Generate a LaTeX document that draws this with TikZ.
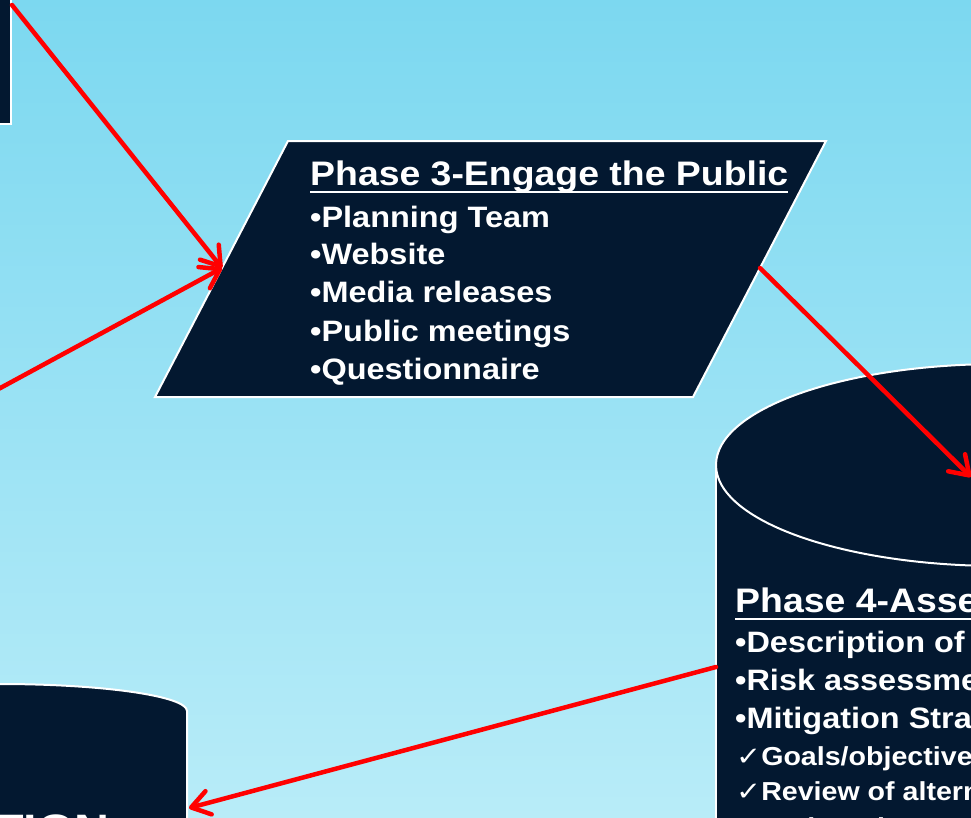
\documentclass[tikz,border=0pt]{standalone}
\usepackage{fontspec}
\setmainfont[FakeStretch=1.1]{Liberation Sans}
\newfontfamily\symfont[FakeStretch=1.15]{DejaVu Sans}
\usetikzlibrary{arrows.meta,calc}
\definecolor{navy}{RGB}{3,24,48}
\definecolor{bgtop}{RGB}{124,216,240}
\definecolor{bgbot}{RGB}{184,236,248}
\definecolor{arrowred}{RGB}{255,0,0}
\begin{document}
\begin{tikzpicture}[x=1pt,y=-1pt,
  shapebox/.style={fill=navy,draw=white,line width=2pt},
  conn/.style={draw=arrowred,line width=4.5pt,line cap=round,-{Straight Barb[length=18pt,width=24pt,round]}},
  ttl/.style={anchor=base west,inner sep=0pt,text=white,font=\fontsize{34}{38}\selectfont\bfseries},
  itm/.style={anchor=base west,inner sep=0pt,text=white,font=\fontsize{29.5}{35}\selectfont\bfseries},
  chk/.style={anchor=base west,inner sep=0pt,text=white,font=\fontsize{26}{32}\selectfont\bfseries},
  uline/.style={draw=white,line width=2.8pt}]
\useasboundingbox (0,0) rectangle (971,817);
\clip (0,0) rectangle (971,817);
\shade[top color=bgtop,bottom color=bgbot] (0,0) rectangle (971,817);

% top-left box (partly visible)
\path[shapebox] (-20,-20) rectangle (11,124);
\coordinate (b2out) at (12,5);

% Phase 3 parallelogram
\path[shapebox] (288,141) -- (826,141) -- (693,397) -- (155,397) -- cycle;
\coordinate (p3in) at (222,268);
\coordinate (p3out) at (760,268);
\coordinate (leftsrc) at (-20,399);

% right cylinder (Phase 4)
\path[fill=navy] (716,465) rectangle (1400,860);
\draw[white,line width=2pt] (716,465) -- (716,860);
\path[shapebox] (1000,465) ellipse [x radius=284pt, y radius=101pt];
\coordinate (p4in) at (971,477);
\coordinate (p4out) at (716,667);

% bottom-left cylinder
\path[fill=navy] (-200,711) rectangle (187,860);
\path[fill=navy] (0,711) ellipse [x radius=187pt, y radius=27pt];
\draw[white,line width=2pt] (187,860) -- (187,711) arc[start angle=0,end angle=180,x radius=187pt,y radius=27pt];
\coordinate (p5in) at (189,808);
\node[anchor=base east,inner sep=0pt,text=white,font=\fontsize{44}{50}\selectfont\bfseries] (t5) at (110,845) {TION};

% Phase 3 text
\node[ttl] (t3) at (310,185) {Phase 3-Engage the Public};
\draw[uline] ($(t3.base west)+(0,7)$) -- ($(t3.base east)+(0,7)$);
\node[itm] (t3a) at (310,227) {•Planning Team};
\node[itm] (t3b) at (310,264) {•Website};
\node[itm] (t3c) at (310,302) {•Media releases};
\node[itm] (t3d) at (310,341) {•Public meetings};
\node[itm] (t3e) at (310,379) {•Questionnaire};

% Phase 4 text
\node[ttl] (t4) at (735,612) {Phase 4-Assess the Risk};
\draw[uline] ($(t4.base west)+(0,7)$) -- ($(t4.base east)+(0,7)$);
\node[itm] (t4a) at (735,652) {•Description of the hazards};
\node[itm] (t4b) at (735,690) {•Risk assessment};
\node[itm] (t4c) at (735,728) {•Mitigation Strategy};
\node[chk] (t4d) at (736,765) {{\symfont\mdseries ✓}Goals/objectives};
\node[chk] (t4e) at (736,800) {{\symfont\mdseries ✓}Review of alternatives};
\node[chk] (t4f) at (736,836) {{\symfont\mdseries ✓}Action Plan};

% connectors
\draw[conn] (b2out) -- (p3in);
\draw[conn] (leftsrc) -- (p3in);
\draw[conn] (p3out) -- (p4in);
\draw[conn] (p4out) -- (p5in);
\end{tikzpicture}
\end{document}
